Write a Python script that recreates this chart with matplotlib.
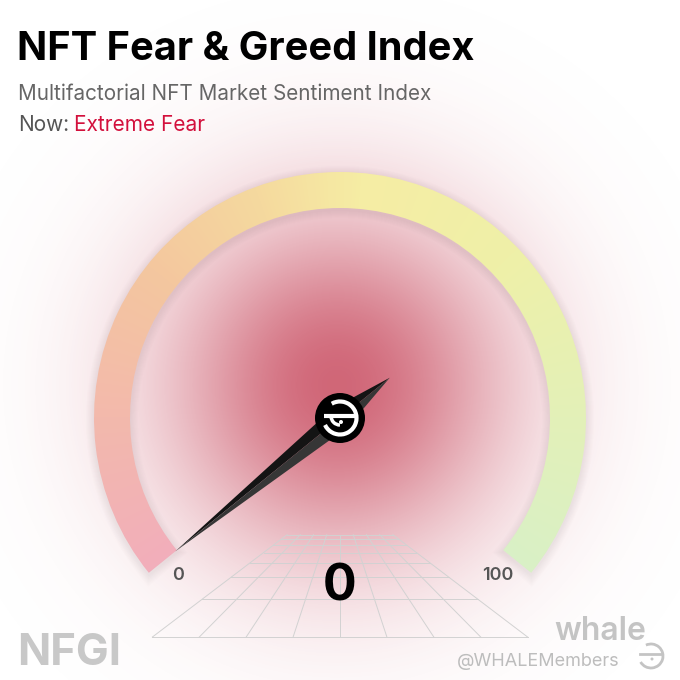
import numpy as np
import matplotlib.pyplot as plt
from matplotlib.patches import Wedge, Circle, Polygon, Arc
from matplotlib.colors import LinearSegmentedColormap

plt.rcParams['font.family'] = ['Inter', 'DejaVu Sans']

# current reading of the index
value = 0
value_min, value_max = 0, 100
status = "Extreme Fear"
status_color = "#d3103c"
title = "NFT Fear & Greed Index"
subtitle = "Multifactorial NFT Market Sentiment Index"
tick_values = [0, 100]

# colour ramp along the gauge (fraction of the scale, colour)
stop_pos = [0.0, 0.15, 0.3, 0.42, 0.52, 0.68, 0.85, 1.0]
stop_colors = ["#f2aebb", "#f3b9ac", "#f4c79f", "#f5d99e", "#f6eda4",
               "#eff0a8", "#e3f0b8", "#d9f0c6"]

W = H = 680
fig = plt.figure(figsize=(6.8, 6.8), dpi=100)
ax = fig.add_axes([0, 0, 1, 1])

# gauge geometry (pixels, y up)
cx, cy = 340, H - 418
r_out, r_in = 246, 210
a_start, a_end = 219, -39


def angle_of(v):
    return a_start + (a_end - a_start) * (v - value_min) / (value_max - value_min)


yy, xx = np.mgrid[0:H, 0:W] + 0.5

# soft red glow behind the dial
gx, gy = cx - 3, H - 385
rr = np.hypot(xx - gx, yy - gy)
glow = np.zeros((H, W, 4))
glow[..., :3] = np.array([200, 75, 95]) / 255
glow[..., 3] = 0.85 * np.exp(-(rr / 172) ** 2.0)
ax.imshow(glow, extent=(0, W, 0, H), origin='lower', zorder=0,
          interpolation='bilinear')

# faint shadow under the coloured band
for k in range(1, 9):
    ax.add_patch(Wedge((cx, cy - 2), r_out + k, a_end - 0.25 * k, a_start + 0.25 * k,
                       width=r_out - r_in + 2 * k, facecolor=(0.5, 0.35, 0.42),
                       alpha=0.011, lw=0, zorder=2))

# coloured band: conic gradient clipped to the ring
theta = np.degrees(np.arctan2(yy - cy, xx - cx))
theta = np.where(theta < -90, theta + 360, theta)
frac = np.clip((a_start - theta) / (a_start - a_end), 0, 1)
cmap = LinearSegmentedColormap.from_list('gauge', list(zip(stop_pos, stop_colors)))
band = ax.imshow(cmap(frac), extent=(0, W, 0, H), origin='lower', zorder=3,
                 interpolation='bilinear')
ring = Wedge((cx, cy), r_out, a_end, a_start, width=r_out - r_in,
             facecolor='none', edgecolor='none')
ax.add_patch(ring)
band.set_clip_path(ring)

# perspective floor grid
def floor(u, d):
    return cx + u * 129 / (d + 2.75), H - (494.5 + 392 / (d + 2.75))


depths = np.arange(0, 8)
cols = np.arange(-4, 5)
for d in depths:
    x0, y0 = floor(-4, d)
    x1, _ = floor(4, d)
    ax.plot([x0, x1], [y0, y0], color='#d2d2d2', lw=0.7, zorder=1)
for u in cols:
    xa, ya = floor(u, depths[0])
    xb, yb = floor(u, depths[-1])
    ax.plot([xa, xb], [ya, yb], color='#d2d2d2', lw=0.7, zorder=1)

# needle
ang = np.radians(angle_of(value))
c = np.array([cx, cy])
dvec = np.array([np.cos(ang), np.sin(ang)])
nvec = np.array([-dvec[1], dvec[0]])
tip, tail, hw = c + dvec * 212, c - dvec * 64, 12
ax.add_patch(Polygon([tip, c - nvec * hw, tail], closed=True, fc='#141414', lw=0, zorder=5))
ax.add_patch(Polygon([tip, c + nvec * hw, tail], closed=True, fc='#363636', lw=0, zorder=5))

# hub with logo
ax.add_patch(Circle((cx, cy), 25, fc='black', zorder=6))
ax.add_patch(Arc((cx, cy), 33, 33, theta1=-155, theta2=120, color='white', lw=3, zorder=7))
ax.plot([cx - 16, cx + 16], [cy + 2, cy + 2], color='white', lw=3,
        solid_capstyle='butt', zorder=7)
ax.add_patch(Arc((cx, cy + 2), 18, 18, theta1=180, theta2=270, color='white', lw=2.5, zorder=7))
ax.add_patch(Circle((cx + 1, cy - 4), 2, fc='white', zorder=7))

# scale labels
for v in tick_values:
    a = np.radians(angle_of(v))
    ax.text(cx + 206 * np.cos(a) - 2, cy + 206 * np.sin(a) - 28, f"{v}",
            ha='center', va='center', fontsize=13, fontweight='semibold',
            color='#555555', zorder=8)
ax.text(cx, H - 587, f"{value}", ha='center', va='center', fontsize=36,
        fontweight='bold', color='black', zorder=8)

# header
ax.text(17, H - 60, title, fontsize=28.6, fontweight='bold', color='black', va='baseline')
ax.text(18, H - 100, subtitle, fontsize=14.9, color='#666666', va='baseline')
ax.text(18, H - 131, "Now:", fontsize=15, color='#555555', va='baseline')
ax.text(74, H - 131, status, fontsize=15, color=status_color, va='baseline')

# footer branding
ax.text(17, H - 665, "NFGI", fontsize=31.5, fontweight='bold', color='#c8c8c8', va='baseline')
ax.text(600, H - 640, "whale", fontsize=23, fontweight='semibold', color='#c4c4c4',
        ha='center', va='baseline')
ax.text(620, H - 666, "@WHALEMembers", fontsize=13, color='#bdbdbd', ha='right', va='baseline')
lx, ly = 651, H - 656
ax.add_patch(Arc((lx, ly), 24, 24, theta1=-150, theta2=115, color='#c4c4c4', lw=2))
ax.plot([lx - 11, lx + 11], [ly + 2, ly + 2], color='#c4c4c4', lw=2)
ax.add_patch(Circle((lx + 1, ly - 3), 1.5, fc='#c4c4c4'))

ax.set_xlim(0, W)
ax.set_ylim(0, H)
ax.axis('off')
fig.savefig('out.png', dpi=100, facecolor='white')
